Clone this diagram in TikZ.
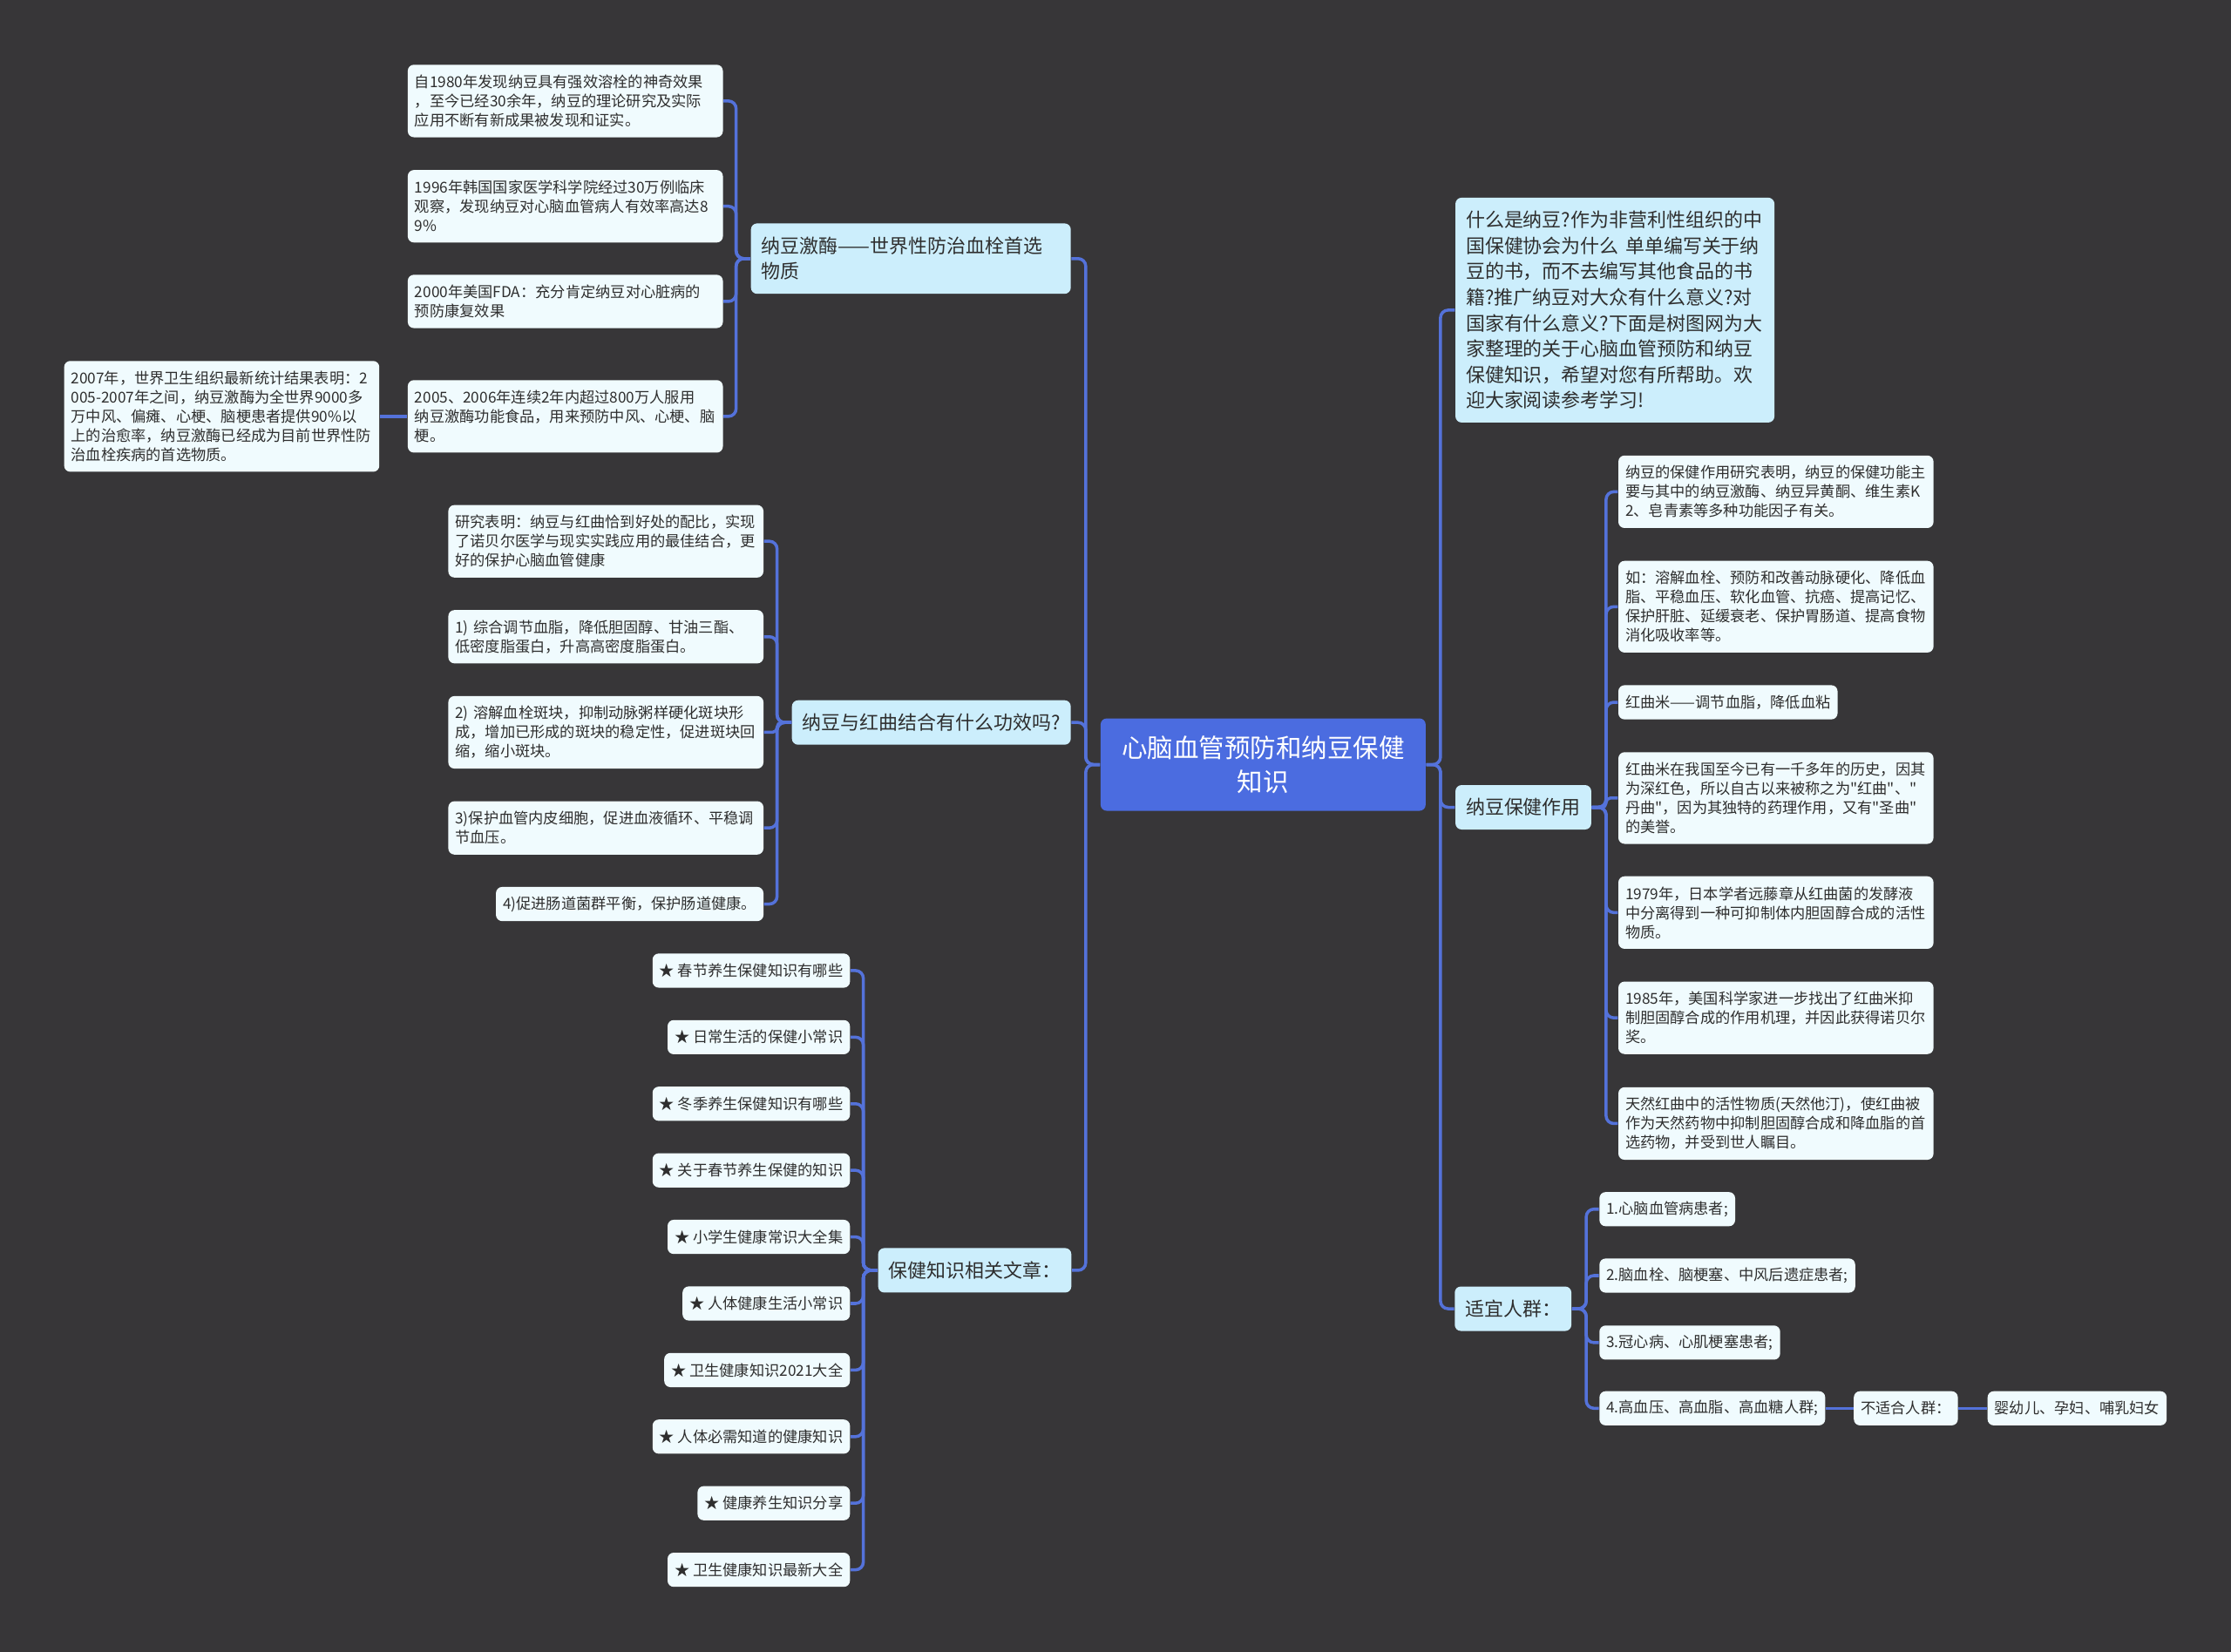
\documentclass[tikz,border=0pt]{standalone}
\usepackage{fontspec}
\setmainfont{Noto Sans CJK SC}
\newfontfamily\cjkfont{Noto Sans CJK SC}
\usetikzlibrary{calc}
\definecolor{PageDark}{HTML}{373638}
\definecolor{LinkBlue}{HTML}{5472DA}
\definecolor{RootBlue}{HTML}{4B6CE0}
\definecolor{SoftCyan}{HTML}{CCEEFC}
\definecolor{PaleCyan}{HTML}{F0FBFE}
\definecolor{InkGray}{HTML}{2E2E2E}
\tikzset{
  root/.style={fill=RootBlue, rounded corners=2pt, text=white, align=center, minimum width=37.3mm, minimum height=10.6mm, inner sep=1.2mm, font=\cjkfont\fontsize{8.4pt}{11pt}\selectfont},
  topic/.style={fill=SoftCyan, rounded corners=2pt, text=InkGray, align=left, inner xsep=1.2mm, inner ysep=0.3mm, minimum height=5.1mm, font=\cjkfont\fontsize{6.25pt}{8.3pt}\selectfont},
  leaf/.style={fill=PaleCyan, rounded corners=2pt, text=InkGray, align=left, inner xsep=0.8mm, inner ysep=0.3mm, minimum height=3.92mm, font=\cjkfont\fontsize{4.9pt}{6.26pt}\selectfont},
  wide/.style={text width=34.56mm},
  rows/.style={minimum height={#1*2.2mm+1.72mm}},
  link/.style={draw=LinkBlue, line width=1pt, rounded corners=2.5pt}
}

\begin{document}
\begin{tikzpicture}[x=0.16327mm, y=-0.16327mm]
\fill[PageDark] (0,0) rectangle (1568,1161);
\useasboundingbox (0,0) rectangle (1568,1161);
% centre and main branches
\node[root] (core) at (887.75,537.5) {心脑血管预防和纳豆保健\\知识};
\node[topic, text width=34.3mm, minimum height=8.08mm, anchor=east] (enzyme) at (753,181.8) {纳豆激酶——世界性防治血栓首选\\物质};
\node[topic, anchor=east] (combo) at (753,507.9) {纳豆与红曲结合有什么功效吗?};
\node[topic, anchor=east] (articles) at (753.4,893) {保健知识相关文章：};
\node[topic, text width=34.2mm, minimum height=25.8mm, anchor=west, font=\cjkfont\fontsize{6.25pt}{8.4pt}\selectfont] (intro) at (1022.5,218) {什么是纳豆?作为非营利性组织的中\\国保健协会为什么~单单编写关于纳\\豆的书，而不去编写其他食品的书\\籍?推广纳豆对大众有什么意义?对\\国家有什么意义?下面是树图网为大\\家整理的关于心脑血管预防和纳豆\\保健知识，希望对您有所帮助。欢\\迎大家阅读参考学习!};
\node[topic, anchor=west] (effect) at (1022.5,567.5) {纳豆保健作用};
\node[topic, anchor=west] (people) at (1022,920) {适宜人群：};
% enzyme leaves
\node[leaf, wide, rows=3, anchor=east] (enz1) at (508.5,71) {自1980年发现纳豆具有强效溶栓的神奇效果\\，至今已经30余年，纳豆的理论研究及实际\\应用不断有新成果被发现和证实。};
\node[leaf, wide, rows=3, anchor=east] (enz2) at (508.5,145) {1996年韩国国家医学科学院经过30万例临床\\观察，发现纳豆对心脑血管病人有效率高达8\\9\%};
\node[leaf, wide, rows=2, anchor=east] (enz3) at (508.5,211.9) {2000年美国FDA：充分肯定纳豆对心脏病的\\预防康复效果};
\node[leaf, wide, rows=3, anchor=east] (enz4) at (508.5,292.7) {2005、2006年连续2年内超过800万人服用\\纳豆激酶功能食品，用来预防中风、心梗、脑\\梗。};
\node[leaf, wide, rows=5, anchor=east] (enzwho) at (267,292.7) {2007年，世界卫生组织最新统计结果表明：2\\005-2007年之间，纳豆激酶为全世界9000多\\万中风、偏瘫、心梗、脑梗患者提供90\%以\\上的治愈率，纳豆激酶已经成为目前世界性防\\治血栓疾病的首选物质。};
% combo leaves
\node[leaf, wide, rows=3, anchor=east] (combo1) at (537,380.5) {研究表明：纳豆与红曲恰到好处的配比，实现\\了诺贝尔医学与现实实践应用的最佳结合，更\\好的保护心脑血管健康};
\node[leaf, wide, rows=2, anchor=east] (combo2) at (537,447.6) {1)~综合调节血脂，降低胆固醇、甘油三酯、\\低密度脂蛋白，升高高密度脂蛋白。};
\node[leaf, wide, rows=3, anchor=east] (combo3) at (537,514.8) {2)~溶解血栓斑块，抑制动脉粥样硬化斑块形\\成，增加已形成的斑块的稳定性，促进斑块回\\缩，缩小斑块。};
\node[leaf, wide, rows=2, anchor=east] (combo4) at (537,582) {3)保护血管内皮细胞，促进血液循环、平稳调\\节血压。};
\node[leaf, anchor=east] (combo5) at (537,635.5) {4)促进肠道菌群平衡，保护肠道健康。};
% article leaves
\node[leaf, anchor=east] (art1) at (597.8,682.3) {★ 春节养生保健知识有哪些};
\node[leaf, anchor=east] (art2) at (597.8,729.1) {★ 日常生活的保健小常识};
\node[leaf, anchor=east] (art3) at (597.8,775.9) {★ 冬季养生保健知识有哪些};
\node[leaf, anchor=east] (art4) at (597.8,822.7) {★ 关于春节养生保健的知识};
\node[leaf, anchor=east] (art5) at (597.8,869.5) {★ 小学生健康常识大全集};
\node[leaf, anchor=east] (art6) at (597.8,916.3) {★ 人体健康生活小常识};
\node[leaf, anchor=east] (art7) at (597.8,963.1) {★ 卫生健康知识2021大全};
\node[leaf, anchor=east] (art8) at (597.8,1009.9) {★ 人体必需知道的健康知识};
\node[leaf, anchor=east] (art9) at (597.8,1056.7) {★ 健康养生知识分享};
\node[leaf, anchor=east] (art10) at (597.8,1103.5) {★ 卫生健康知识最新大全};
% effect leaves
\node[leaf, wide, rows=3, anchor=west] (eff1) at (1137,345.7) {纳豆的保健作用研究表明，纳豆的保健功能主\\要与其中的纳豆激酶、纳豆异黄酮、维生素K\\2、皂青素等多种功能因子有关。};
\node[leaf, wide, rows=4, anchor=west] (eff2) at (1137,426.5) {如：溶解血栓、预防和改善动脉硬化、降低血\\脂、平稳血压、软化血管、抗癌、提高记忆、\\保护肝脏、延缓衰老、保护胃肠道、提高食物\\消化吸收率等。};
\node[leaf, anchor=west] (eff3) at (1137,493.7) {红曲米——调节血脂，降低血粘};
\node[leaf, wide, rows=4, anchor=west] (eff4) at (1137,561) {红曲米在我国至今已有一千多年的历史，因其\\为深红色，所以自古以来被称之为"红曲"、"\\丹曲"，因为其独特的药理作用，又有"圣曲"\\的美誉。};
\node[leaf, wide, rows=3, anchor=west] (eff5) at (1137,641.5) {1979年，日本学者远藤章从红曲菌的发酵液\\中分离得到一种可抑制体内胆固醇合成的活性\\物质。};
\node[leaf, wide, rows=3, anchor=west] (eff6) at (1137,715.5) {1985年，美国科学家进一步找出了红曲米抑\\制胆固醇合成的作用机理，并因此获得诺贝尔\\奖。};
\node[leaf, wide, rows=3, anchor=west] (eff7) at (1137,789.8) {天然红曲中的活性物质(天然他汀)，使红曲被\\作为天然药物中抑制胆固醇合成和降血脂的首\\选药物，并受到世人瞩目。};
% people leaves
\node[leaf, anchor=west] (ppl1) at (1123.7,850) {1.心脑血管病患者;};
\node[leaf, anchor=west] (ppl2) at (1123.7,896.7) {2.脑血栓、脑梗塞、中风后遗症患者;};
\node[leaf, anchor=west] (ppl3) at (1123.7,943.8) {3.冠心病、心肌梗塞患者;};
\node[leaf, anchor=west] (ppl4) at (1123.7,990) {4.高血压、高血脂、高血糖人群;};
\node[leaf, anchor=west] (unfit) at (1302.5,990) {不适合人群：};
\node[leaf, anchor=west] (unfitwho) at (1396.5,990) {婴幼儿、孕妇、哺乳妇女};
% connectors
\draw[link] (core.west) -- ++(-10,0) |- (enzyme.east);
\draw[link] (core.west) -- ++(-10,0) |- (combo.east);
\draw[link] (core.west) -- ++(-10,0) |- (articles.east);
\draw[link] (core.east) -- ++(10,0) |- (intro.west);
\draw[link] (core.east) -- ++(10,0) |- (effect.west);
\draw[link] (core.east) -- ++(10,0) |- (people.west);
\draw[link] (enzyme.west) -- ++(-10,0) |- (enz1.east);
\draw[link] (enzyme.west) -- ++(-10,0) |- (enz2.east);
\draw[link] (enzyme.west) -- ++(-10,0) |- (enz3.east);
\draw[link] (enzyme.west) -- ++(-10,0) |- (enz4.east);
\draw[link] (enz4.west) -- (enzwho.east);
\draw[link] (combo.west) -- ++(-10,0) |- (combo1.east);
\draw[link] (combo.west) -- ++(-10,0) |- (combo2.east);
\draw[link, rounded corners=1.5pt] (combo.west) -- ++(-10,0) |- (combo3.east);
\draw[link] (combo.west) -- ++(-10,0) |- (combo4.east);
\draw[link] (combo.west) -- ++(-10,0) |- (combo5.east);
\draw[link] (articles.west) -- ++(-10,0) |- (art1.east);
\draw[link] (articles.west) -- ++(-10,0) |- (art2.east);
\draw[link] (articles.west) -- ++(-10,0) |- (art3.east);
\draw[link] (articles.west) -- ++(-10,0) |- (art4.east);
\draw[link] (articles.west) -- ++(-10,0) |- (art5.east);
\draw[link] (articles.west) -- ++(-10,0) |- (art6.east);
\draw[link] (articles.west) -- ++(-10,0) |- (art7.east);
\draw[link] (articles.west) -- ++(-10,0) |- (art8.east);
\draw[link] (articles.west) -- ++(-10,0) |- (art9.east);
\draw[link] (articles.west) -- ++(-10,0) |- (art10.east);
\draw[link] (effect.east) -- ++(10,0) |- (eff1.west);
\draw[link] (effect.east) -- ++(10,0) |- (eff2.west);
\draw[link] (effect.east) -- ++(10,0) |- (eff3.west);
\draw[link, rounded corners=1.4pt] (effect.east) -- ++(10,0) |- (eff4.west);
\draw[link] (effect.east) -- ++(10,0) |- (eff5.west);
\draw[link] (effect.east) -- ++(10,0) |- (eff6.west);
\draw[link] (effect.east) -- ++(10,0) |- (eff7.west);
\draw[link] (people.east) -- ++(10,0) |- (ppl1.west);
\draw[link] (people.east) -- ++(10,0) |- (ppl2.west);
\draw[link] (people.east) -- ++(10,0) |- (ppl3.west);
\draw[link] (people.east) -- ++(10,0) |- (ppl4.west);
\draw[link] (ppl4.east) -- (unfit.west);
\draw[link] (unfit.east) -- (unfitwho.west);
\end{tikzpicture}
\end{document}
